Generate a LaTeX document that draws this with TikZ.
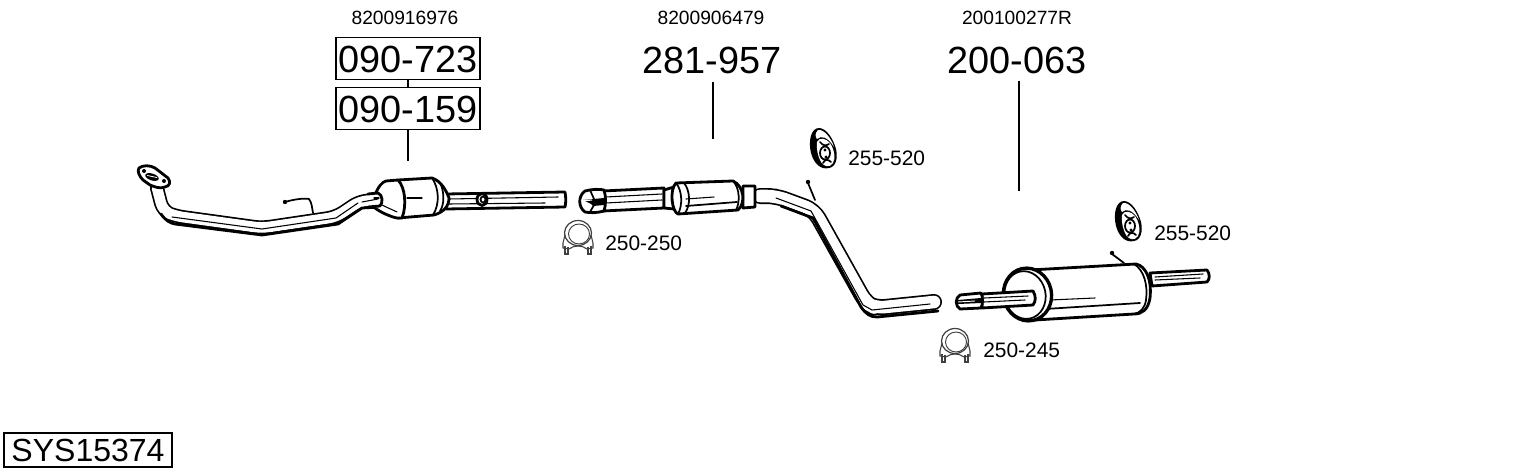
\documentclass[tikz,border=0pt]{standalone}
\usepackage{fontspec}
\setmainfont{Liberation Sans}
\newcommand{\pipeline}[3]{%
  \draw[black,line width=#1*0.75pt,line cap=round,line join=round,rounded corners=#3] #2;
  \draw[white,line width=(#1-3.4)*0.75pt,line cap=round,line join=round,rounded corners=#3] #2;}
\tikzset{
  x=0.75pt,y=-0.75pt,
  big/.style={font=\fontsize{28.4pt}{30pt}\selectfont,inner sep=0pt,text height=21pt,text depth=0pt,align=center},
  partbox/.style={big,draw,line width=0.9pt,minimum width=108pt,minimum height=32pt},
  small/.style={font=\fontsize{15.7pt}{17pt}\selectfont,inner sep=0pt,anchor=west},
  oem/.style={font=\fontsize{14.4pt}{16pt}\selectfont,inner sep=0pt},
  leader/.style={line width=0.9pt},
  ink/.style={line width=1.3pt,line join=round,line cap=round},
  heavy/.style={line width=2.1pt,line join=round,line cap=round},
  fine/.style={line width=0.8pt,line join=round,line cap=round},
  hanger/.pic={
    \fill[black] (-4,-21) .. controls (-12,-21) and (-15,-8) .. (-12,4) .. controls (-9,15) and (-2,21) .. (6,19) .. controls (13,18) and (15,9) .. (13,0) .. controls (10,-11) and (3,-21) .. (-4,-21) -- cycle;
    \fill[white] (-5,-19) .. controls (-8,-16) and (-8,-12) .. (-6,-10) .. controls (-2,-14) and (5,-12) .. (11,-2) .. controls (8,-11) and (1,-20) .. (-5,-19) -- cycle;
    \fill[white] (-6,-7) .. controls (-4,-12) and (3,-11) .. (7,-6) .. controls (11,0) and (13,9) .. (10,14) .. controls (7,19) and (1,18) .. (-2,13) .. controls (-5,8) and (-7,-1) .. (-6,-7) -- cycle;
    \draw[ink] (-3,-7) .. controls (0,-3) and (3,-3) .. (6,-5);
    \draw[ink] (0,14) .. controls (2,10) and (5,10) .. (8,13);
    \draw[ink] (2,4) circle[x radius=5,y radius=6.5];
    \fill (2,1) circle[radius=1.7] (3,8) circle[radius=1.7];
  },
  clamp/.pic={
    \draw[line width=0.9pt,black!75] (0,-3) circle[x radius=13.5,y radius=12.5];
    \draw[line width=0.7pt,black!75] (1,-2) circle[x radius=10.5,y radius=10];
    \draw[line width=0.8pt,black!75] (-13,-1) -- (-15,7) -- (-15,12) -- (-9,13) (-9,13) .. controls (-4,9) and (4,9) .. (9,13) -- (15,12) -- (15,7) -- (13,-1);
    \draw[line width=0.8pt,black!75] (-13,10) -- (-13,18) -- (-10,18) -- (-10,11) (13,10) -- (13,18) -- (10,18) -- (10,11);
  }
}
\begin{document}
\begin{tikzpicture}
\useasboundingbox (0,0) rectangle (1530,474);
\fill[white] (0,0) rectangle (1530,474);

% labels
\node[oem] (oa) at (405,18) {8200916976};
\node[oem] (ob) at (711,18) {8200906479};
\node[oem] (oc) at (1017,18) {200100277R};
\node[partbox] (p1) at (408,58.5) {090-723};
\node[partbox] (p2) at (408,108.5) {090-159};
\node[big,minimum height=31.5pt] (p3) at (712,60) {281-957};
\node[big,minimum height=31.5pt] (p4) at (1017,60) {200-063};
\coordinate (t2) at (408,161);
\coordinate (t3) at (713,139);
\coordinate (t4) at (1019,191);
\coordinate (s3) at (713,82);
\coordinate (s4) at (1019,81);
\draw[leader] (p1) -- (p2);
\draw[leader] (p2.south -| t2) -- (t2);
\draw[leader] (s3) -- (t3);
\draw[leader] (s4) -- (t4);
\node[small] (l1) at (848,158) {255-520};
\node[small] (l2) at (605,243) {250-250};
\node[small] (l3) at (1154,233) {255-520};
\node[small] (l4) at (983,350) {250-245};
\node[draw,line width=0.9pt,font=\fontsize{24pt}{25pt}\selectfont,inner sep=0pt,minimum width=126pt,minimum height=25.5pt] (sys) at (88,450) {SYS15374};

% front pipe
\draw[ink] (285,202) .. controls (295,199) and (305,198) .. (309,199) .. controls (312,203) and (312,208) .. (313,213);
\fill (285,202) circle[radius=2.2];
\pipeline{14}{(157,188) -- (163,211) -- (175,216) -- (262,228) -- (336,217) -- (360,201) -- (380,200)}{6pt}
\draw[heavy] (161,214) .. controls (166,221) and (170,223) .. (175,224) -- (262,235) -- (338,224) -- (362,208) -- (380,207);
\draw[fine] (172,217) -- (262,229) -- (336,218) -- (358,203);
% flange
\draw[heavy,fill=white] (139,168) .. controls (143,165) and (150,165) .. (155,168) -- (168,178) .. controls (171,182) and (170,186) .. (165,187) .. controls (160,189) and (155,187) .. (150,185) -- (143,180) .. controls (139,176) and (137,171) .. (139,168) -- cycle;
\fill[rotate around={-18:(152,177)}] (152,177) ellipse[x radius=7,y radius=3.4];
\draw[line width=0.6pt,white,rotate around={-18:(152,177)}] (147,177) -- (157,176);
\fill (144,171) circle[radius=2] (164,181) circle[radius=2];
% catalyst
\draw[heavy,fill=white] (446,194) -- (565,192) .. controls (566,197) and (566,203) .. (565,207) -- (446,209) -- cycle;
\draw[fine] (449,199) -- (558,197);
\draw[fine] (449,204) -- (545,203);
\draw[heavy,fill=white] (398,180) -- (432,178) .. controls (441,181) and (446,190) .. (449,198) .. controls (449,206) and (444,212) .. (434,215) -- (398,218) -- cycle;
\draw[ink] (440,183) .. controls (444,190) and (445,204) .. (440,211);
\draw[ink] (432,178) .. controls (439,188) and (440,204) .. (433,215);
\draw[heavy,fill=white] (375,195) .. controls (378,187) and (382,182) .. (386,181) -- (398,180) .. controls (405,187) and (407,205) .. (402,218) -- (397,218) .. controls (391,217) and (380,212) .. (375,208) -- cycle;
\draw[fine] (407,198) -- (422,198);
\draw[fine] (382,205) .. controls (388,208) and (393,210) .. (397,212);
\draw[heavy,fill=white] (368,194) -- (378,193) .. controls (383,195) and (383,203) .. (380,206) -- (368,207);
\draw[fine] (374,198) -- (379,198);
\draw[heavy,white,line width=6pt,line cap=butt] (363,200) -- (370,200);
\draw[fine] (362,202) -- (378,199);
% bolt
\draw[heavy,fill=white] (482,199.5) circle[x radius=5,y radius=6];
\draw[ink] (483,199.5) circle[x radius=2.5,y radius=3];

% middle pipe
\draw[heavy,fill=white] (603,191) -- (664,188) -- (664,208) -- (603,211) -- cycle;
\draw[fine] (606,197) -- (662,194);
\draw[fine] (606,203) -- (662,200);
\draw[heavy,fill=white] (585,191) .. controls (592,189) and (600,189) .. (604,190) .. controls (606,196) and (606,205) .. (604,211) .. controls (597,213) and (590,213) .. (585,212) .. controls (578,207) and (578,196) .. (585,191) -- cycle;
\fill (583,200) -- (604,198) .. controls (605,201) and (605,204) .. (604,205) -- (593,206) -- (591,204) -- cycle;
\draw[line width=0.8pt,white] (581,201) -- (592,200);
\draw[ink] (590,190) -- (594,199) (590,212) -- (594,205);
\pipeline{16}{(760,196) -- (776,196) -- (814,210) -- (866,303) -- (875,308) -- (934,302)}{7pt}
\draw[heavy] (781,206) -- (813,218) -- (861,307) .. controls (866,314) and (870,317) .. (877,317) -- (938,311);
\draw[fine] (776,198) -- (811,211) -- (863,305) -- (872,310) -- (930,304);
\draw[fine] (776,189) -- (776,189);
\draw[ink] (808,183) -- (815,200);
\fill (808,182) circle[radius=2.2];
\draw[heavy,fill=white] (664,190) -- (674,187) -- (674,209) -- (664,208) -- cycle;
\draw[heavy,fill=white] (743,186) -- (755,186) -- (755,207) -- (743,208) -- cycle;
\draw[heavy,fill=white] (676,183) -- (733,181) .. controls (744,186) and (746,203) .. (738,210) -- (678,214) .. controls (672,212) and (669,190) .. (676,183) -- cycle;
\draw[ink] (684,183) .. controls (690,190) and (691,205) .. (685,213);
\draw[ink] (676,183) .. controls (682,190) and (683,205) .. (678,214);
\draw[ink] (733,181) .. controls (740,188) and (740,203) .. (736,210);
\draw[fine] (686,199) -- (714,197);
\draw[ink] (686,206) -- (737,202);

% rear muffler
\draw[heavy,fill=white] (1150,273) -- (1207,270) .. controls (1210,274) and (1210,279) .. (1207,282) -- (1152,286) -- cycle;
\draw[fine] (1155,277) -- (1203,274);
\draw[fine] (1155,280) -- (1200,278);
\draw[heavy,fill=white] (1030,270) -- (1136,264) .. controls (1146,266) and (1152,280) .. (1150,298) .. controls (1148,310) and (1142,314) .. (1134,314) -- (1035,320) -- cycle;
\draw[ink] (1134,264) .. controls (1144,270) and (1148,285) .. (1146,300) .. controls (1145,308) and (1140,313) .. (1134,314);
\draw[ink] (1045,309) -- (1140,303);
\draw[fine] (1050,300) -- (1095,298);
\draw[ink] (1112,254) -- (1124,263);
\fill (1112,253) circle[radius=2.2];
\draw[line width=2.5pt,fill=white,rotate around={12:(1027.5,294.5)}] (1027.5,294.5) ellipse[x radius=24,y radius=26.5];
\draw[ink,rotate around={12:(1027.5,294.5)}] (1025,294.5) ellipse[x radius=20.5,y radius=24];
\draw[heavy,fill=white] (982,294) -- (1033,291) .. controls (1036,296) and (1036,301) .. (1033,305) -- (982,308) -- cycle;
\draw[fine] (984,298) -- (1028,296);
\draw[fine] (984,302) -- (1025,300);
\draw[heavy,fill=white] (960,295) -- (981,293) .. controls (983,297) and (983,304) .. (981,308) -- (960,309) .. controls (955,306) and (955,298) .. (960,295) -- cycle;
\fill (958,300) -- (981,298) -- (981,303) -- (958,304) -- cycle;
\draw[line width=0.7pt,white] (958,302) -- (975,301);

% small parts
\pic at (823,149) {hanger};
\pic at (1128,222) {hanger};
\pic at (578,236) {clamp};
\pic at (955,344) {clamp};
\end{tikzpicture}
\end{document}
